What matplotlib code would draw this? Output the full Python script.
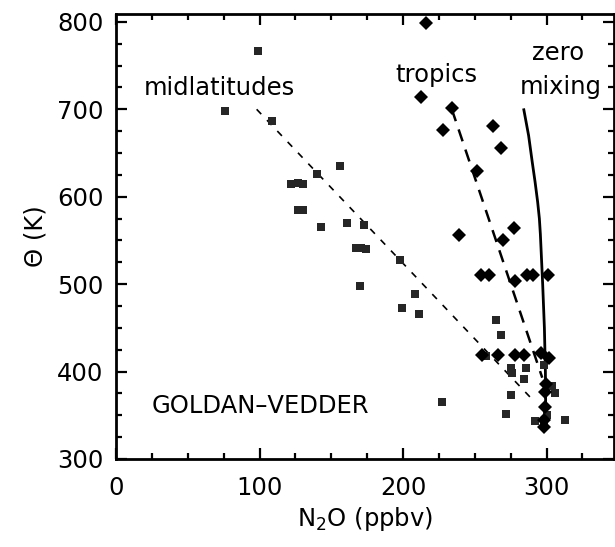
import matplotlib
matplotlib.use("Agg")
import matplotlib.pyplot as plt
from matplotlib.ticker import MultipleLocator

plt.rcParams['font.family'] = ['DejaVu Sans']

# Midlatitude observations (squares)
mid_n2o = [99, 76, 109, 156, 140, 122, 127, 130, 127, 130, 143, 161, 173, 167, 171, 174,
           170, 198, 208, 199, 211, 227, 265, 268, 258, 275, 276, 275, 272, 286, 284,
           298, 304, 306, 300, 292, 313, 298]
mid_theta = [767, 698, 687, 635, 626, 614, 616, 614, 585, 585, 565, 570, 568, 541, 541, 540,
             498, 528, 489, 473, 466, 365, 459, 442, 418, 404, 398, 373, 351, 404, 392,
             407, 383, 375, 350, 344, 345, 339]

# Tropical observations (diamonds)
trop_n2o = [216, 212.5, 234, 228, 263, 268, 251.5, 239, 277, 270, 254, 260, 278, 286.5,
            290.5, 301, 255, 266, 278, 284, 296, 302, 299.5, 299, 299, 298.5, 298.5]
trop_theta = [799, 714, 702, 676, 681, 656, 629.5, 556, 564, 550, 511, 511, 504, 511,
              511, 511, 419, 419, 419, 419, 421, 415, 386, 377, 360, 345, 337]

# Fit lines
mid_fit_n2o = [98, 289]
mid_fit_theta = [700, 370]
trop_fit_n2o = [234, 297]
trop_fit_theta = [700, 393]

# Zero-mixing curve
zero_n2o = [284, 287.5, 290, 292, 293.8, 295, 295.7, 297.3, 298.5, 299.2, 299.5]
zero_theta = [701, 670, 640, 617, 594, 575, 557, 500, 450, 400, 335]

fig = plt.figure(figsize=(6.15, 5.47), dpi=100)
ax = fig.add_axes([116/615, 88/547, 498/615, 445/547])

ax.plot(mid_fit_n2o, mid_fit_theta, color='black', lw=1.2, dashes=(4, 5))
ax.plot(trop_fit_n2o, trop_fit_theta, color='black', lw=1.8, dashes=(5, 3.5))
ax.plot(zero_n2o, zero_theta, color='black', lw=2.0, solid_capstyle='butt',
        solid_joinstyle='round')

ax.plot(mid_n2o, mid_theta, linestyle='none', marker='s', markersize=5.6,
        color='#262626', markeredgewidth=0)
ax.plot(trop_n2o, trop_theta, linestyle='none', marker='D', markersize=6.8,
        color='black', markeredgewidth=0)

fs = 17.5
ax.text(72, 716, 'midlatitudes', fontsize=fs, ha='center', va='baseline')
ax.text(223, 731, 'tropics', fontsize=fs, ha='center', va='baseline')
ax.text(308, 756, 'zero', fontsize=fs, ha='center', va='baseline')
ax.text(310, 718, 'mixing', fontsize=fs, ha='center', va='baseline')
ax.text(25, 361, 'GOLDAN\u2013VEDDER', fontsize=fs, ha='left', va='center')

ax.set_xlim(0, 347)
ax.set_ylim(300, 809)
ax.xaxis.set_major_locator(MultipleLocator(100))
ax.xaxis.set_minor_locator(MultipleLocator(25))
ax.yaxis.set_major_locator(MultipleLocator(100))
ax.yaxis.set_minor_locator(MultipleLocator(25))
ax.tick_params(which='both', direction='in', top=True, right=True, width=1.6)
ax.tick_params(which='major', length=8, labelsize=fs)
ax.tick_params(which='minor', length=4)
ax.tick_params(axis='x', which='major', pad=12)
ax.tick_params(axis='y', which='major', pad=9)
for s in ax.spines.values():
    s.set_linewidth(2)

ax.set_xlabel('N$_2$O (ppbv)', fontsize=fs, labelpad=4)
ax.set_ylabel('\u0398 (K)', fontsize=fs, labelpad=7)

fig.savefig('out.png', dpi=100)
